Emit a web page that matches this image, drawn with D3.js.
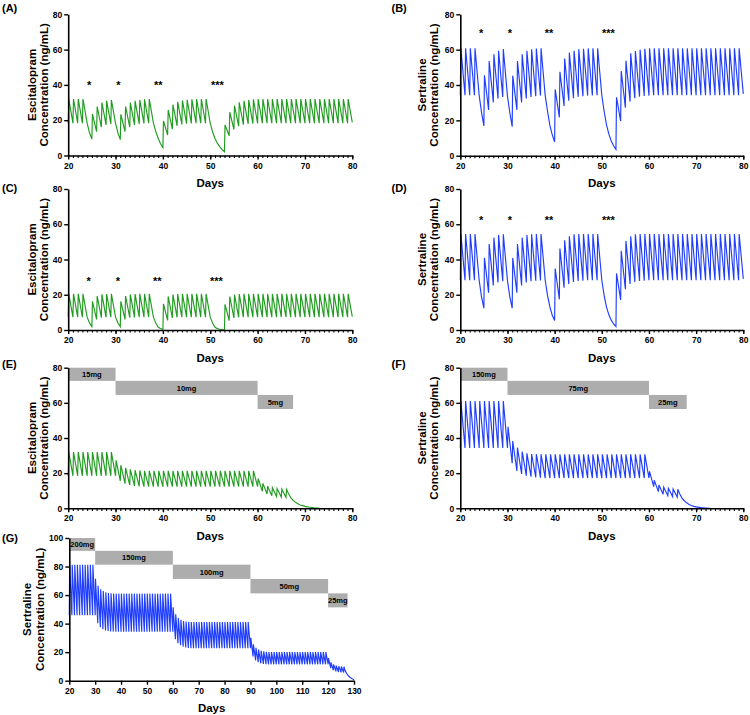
<!DOCTYPE html>
<html><head><meta charset="utf-8">
<script src="https://cdn.jsdelivr.net/npm/d3@7"></script>
<style>
body{margin:0;background:#fff}
svg{display:block}
text{font-family:Arial,"Liberation Sans",sans-serif;font-weight:bold;fill:#000}
</style>
</head><body>
<script>
// ---------------- DATA ----------------
// Each panel: troughs[i] = concentration at day start+i (just before the dose, or on a missed day),
// peaks[i] = concentration right after the dose of day start+i (null = no dose),
// mids = extra read points on long decays.
const daysStart = 20;
const xTicks80 = [20,30,40,50,60,70,80];
const xTicks130 = [20,30,40,50,60,70,80,90,100,110,120,130];
const yTicks80 = [0,20,40,60,80];
const yTicks100 = [0,20,40,60,80,100];

// (A) Escitalopram, missed doses
const aTroughs = [
 18.3,18.3,18.3,18.3,18.3,9.3,13.5,16,17.3,17.9,
 18.2,9,13.5,16,17.3,17.9,18.2,18.3,18.3,9.8,
 4.5,11.6,15,16.8,17.6,18,18.2,18.3,18.3,18.3,
 18.3,9.6,5,2.1,11.2,14.8,16.6,17.5,17.9,18.1,
 18.2,18.3,18.3,18.3,18.3,18.3,18.3,18.3,18.3,18.3,
 18.3,18.3,18.3,18.3,18.3,18.3,18.3,18.3,18.3,18.3,
 18.8];
const aPeaks = [
 32,32,32,32,null,23.5,27.7,30,31,31.5,
 null,23.3,27.7,30,31,31.5,31.8,32,null,null,
 19.6,25.8,28.8,30.4,31.2,31.6,31.8,32,32,32,
 null,null,null,17.3,24.5,28.2,30.1,31,31.5,31.8,
 32,32,32,32,32,32,32,32,32,32,
 32,32,32,32,32,32,32,32,32,32];
const aMids = [[24.5,12.9],[30.5,12.8],[38.5,13.6],[39.5,6.7],[50.5,13.3],[51.5,7],[52.5,3.3]];
const aStars = [[24.4,"*"],[30.6,"*"],[39,"**"],[51.5,"***"]];

// (B) Sertraline, missed doses
const bTroughs = [
 34.2,34.2,34.2,34.2,34.2,16.8,25.9,30.2,32.3,33.2,
 33.7,16.4,25.9,30.2,32.3,33.2,33.7,34,34.1,17,
 7.9,21.7,28.1,31.1,32.5,33.3,33.7,34,34.1,34.2,
 34.2,17.5,8.3,3.6,19.6,27.2,30.6,32.5,33.4,33.8,
 34,34.2,34.2,34.2,34.2,34.2,34.2,34.2,34.2,34.2,
 34.2,34.2,34.2,34.2,34.2,34.2,34.2,34.2,34.2,34.2,
 35];
const bPeaks = [
 60.8,60.8,60.8,60.8,null,45.5,53.6,57.4,59.4,60.4,
 null,45.3,53.6,57.4,59.4,60.2,60.6,60.8,null,null,
 37.5,47.5,55,58.3,59.4,60.2,60.5,60.7,60.8,60.8,
 null,null,null,33,47.9,53.7,57.9,59.2,60,60.5,
 60.8,60.8,60.8,60.8,60.8,60.8,60.8,60.8,60.8,60.8,
 60.8,60.8,60.8,60.8,60.8,60.8,60.8,60.8,60.8,60.8];
const bMids = [[24.5,24.5],[30.5,24.3],[38.5,25],[39.5,11.8],[50.5,25],[51.5,12.2],[52.5,5.6]];
const bStars = [[24.4,"*"],[30.5,"*"],[38.8,"**"],[51.4,"***"]];

// (C) Escitalopram, missed doses (lower exposure)
const cTroughs = [
 7.3,7.3,7.3,7.3,7.3,1.9,6,7,7.2,7.3,
 7.3,1.9,6,7,7.2,7.3,7.3,7.3,7.3,1.5,
 0.3,5.4,6.8,7.2,7.3,7.3,7.3,7.3,7.3,7.3,
 7.3,1.5,0.4,0.1,5.3,6.8,7.2,7.3,7.3,7.3,
 7.3,7.3,7.3,7.3,7.3,7.3,7.3,7.3,7.3,7.3,
 7.3,7.3,7.3,7.3,7.3,7.3,7.3,7.3,7.3,7.3,
 7.6];
const cPeaks = [
 20.5,20.5,20.5,20.5,null,16.3,19.3,20.2,20.4,20.5,
 null,16.3,19.3,20.2,20.4,20.5,20.5,20.5,null,null,
 14.8,19,20.1,20.4,20.5,20.5,20.5,20.5,20.5,20.5,
 null,null,null,14.6,19,20.1,20.4,20.5,20.5,20.5,
 20.5,20.5,20.5,20.5,20.5,20.5,20.5,20.5,20.5,20.5,
 20.5,20.5,20.5,20.5,20.5,20.5,20.5,20.5,20.5,20.5];
const cMids = [[24.5,4],[30.5,4],[38.5,3.9],[39.5,0.8],[50.5,3.9],[51.5,0.8],[52.5,0.2]];
const cStars = [[24.3,"*"],[30.5,"*"],[38.8,"**"],[51.3,"***"]];

// (D) Sertraline, missed doses (lower exposure)
const dTroughs = [
 28.2,28.2,28.2,28.2,28.2,12.4,21.2,25.3,27,27.7,
 28,12.4,21.2,25.3,27,27.7,28,28.1,28.2,13,
 5.4,17.4,24,26.1,27.2,27.8,28,28.2,28.2,28.2,
 28.2,13,5.6,2,17.1,23.1,26.1,27.2,27.8,28,
 28.2,28.2,28.2,28.2,28.2,28.2,28.2,28.2,28.2,28.2,
 28.2,28.2,28.2,28.2,28.2,28.2,28.2,28.2,28.2,28.2,
 29];
const dPeaks = [
 54.5,54.5,54.5,54.5,null,40.9,48.8,52.4,53.9,54.3,
 null,40.9,48.8,52.4,53.9,54.3,54.4,54.5,null,null,
 34.9,46.2,50.9,53.2,54.3,54.4,54.5,54.5,54.5,54.5,
 null,null,null,32.1,44.9,50.5,53.2,54.3,54.4,54.5,
 54.5,54.5,54.5,54.5,54.5,54.5,54.5,54.5,54.5,54.5,
 54.5,54.5,54.5,54.5,54.5,54.5,54.5,54.5,54.5,54.5];
const dMids = [[24.5,18.8],[30.5,18.8],[38.5,19.5],[39.5,8.4],[50.5,19.5],[51.5,8.6],[52.5,3.4]];
const dStars = [[24.4,"*"],[30.5,"*"],[38.8,"**"],[51.4,"***"]];

// (E) Escitalopram taper
const eTroughs = [
 18.5,18.5,18.5,18.5,18.5,18.5,18.5,18.5,18.5,18.5,
 18.5,15.6,14,13.2,12.7,12.5,12.3,12.3,12.3,12.3,
 12.3,12.3,12.3,12.3,12.3,12.3,12.3,12.3,12.3,12.3,
 12.3,12.3,12.3,12.3,12.3,12.3,12.3,12.3,12.3,12.3,
 12.3,9.7,8.1,7.2,6.7,6.4,6.2,6,3.4,1.9,
 1.1,0.6,0.3,0.1];
const ePeaks = [
 32,32,32,32,32,32,32,32,32,32,
 27.3,24.5,23,22.2,21.7,21.5,21.3,21.3,21.3,21.3,
 21.3,21.3,21.3,21.3,21.3,21.3,21.3,21.3,21.3,21.3,
 21.3,21.3,21.3,21.3,21.3,21.3,21.3,21.3,21.3,21.3,
 17,14.2,12.6,11.7,11.2,10.9,10.7];
const eMids = [[66.5,8.5],[67.5,4.5],[68.5,2.6],[69.5,1.5]];
const eBars = [["15mg",20,30,80,72.5],["10mg",30,60,72.5,64.5],["5mg",60,67.5,64.5,56.5]];

// (F) Sertraline taper
const fTroughs = [
 34.3,34.3,34.3,34.3,34.3,34.3,34.3,34.3,34.3,34.3,
 34.3,25.6,21.2,19.5,18.6,18,17.6,17.4,17.2,17.2,
 17.2,17.2,17.2,17.2,17.2,17.2,17.2,17.2,17.2,17.2,
 17.2,17.2,17.2,17.2,17.2,17.2,17.2,17.2,17.2,17.2,
 17.2,12.3,9.5,8,7.2,6.7,6.4,5.8,3.1,1.6,
 0.8,0.4,0.2,0.05];
const fPeaks = [
 61,61,61,61,61,61,61,61,61,61,
 46.4,38.3,34.5,32.2,31.3,30.9,30.8,30.7,30.7,30.7,
 30.7,30.7,30.7,30.7,30.7,30.7,30.7,30.7,30.7,30.7,
 30.7,30.7,30.7,30.7,30.7,30.7,30.7,30.7,30.7,30.7,
 21,16,13.3,12,11.4,11,10.8];
const fMids = [[66.5,8.3],[67.5,4.3],[68.5,2.2],[69.5,1.1]];
const fBars = [["150mg",20,30,80,72.5],["75mg",30,60,72.5,64.5],["25mg",60,68,64.5,56.5]];

// (G) Sertraline long taper
const gTroughs = [
 45.8,45.8,45.8,45.8,45.8,45.8,45.8,45.8,45.8,45.8,
 45.8,40.3,37.5,36,35.2,34.8,34.5,34.4,34.3,34.3,
 34.3,34.3,34.3,34.3,34.3,34.3,34.3,34.3,34.3,34.3,
 34.3,34.3,34.3,34.3,34.3,34.3,34.3,34.3,34.3,34.3,
 34.3,29,26.3,24.8,23.9,23.3,23,22.8,22.7,22.7,
 22.7,22.7,22.7,22.7,22.7,22.7,22.7,22.7,22.7,22.7,
 22.7,22.7,22.7,22.7,22.7,22.7,22.7,22.7,22.7,22.7,
 22.7,17,14.3,13,12.2,11.8,11.6,11.5,11.5,11.5,
 11.5,11.5,11.5,11.5,11.5,11.5,11.5,11.5,11.5,11.5,
 11.5,11.5,11.5,11.5,11.5,11.5,11.5,11.5,11.5,11.5,
 11.5,8.9,7.3,6.5,6.1,5.8,5.7,5.5,3.1,1.7,
 0.5];
const gPeaks = [
 81.3,81.3,81.3,81.3,81.3,81.3,81.3,81.3,81.3,81.3,
 71.5,66.5,64,62.8,62,61.5,61.2,61,61,61,
 61,61,61,61,61,61,61,61,61,61,
 61,61,61,61,61,61,61,61,61,61,
 51.5,46.5,44,42.6,41.8,41.4,41.2,41.1,41.1,41.1,
 41.1,41.1,41.1,41.1,41.1,41.1,41.1,41.1,41.1,41.1,
 41.1,41.1,41.1,41.1,41.1,41.1,41.1,41.1,41.1,41.1,
 30,25.5,23,21.8,21,20.6,20.3,20.1,20.1,20.1,
 20.1,20.1,20.1,20.1,20.1,20.1,20.1,20.1,20.1,20.1,
 20.1,20.1,20.1,20.1,20.1,20.1,20.1,20.1,20.1,20.1,
 15.8,12.9,11.4,10.6,10.2,10,9.8];
const gMids = [[126.5,7.5],[127.5,4.2],[128.5,2.3],[129.5,1.1]];
const gBars = [["200mg",20,30,100,91],["150mg",30,60,91,81.3],["100mg",60,90,81.3,71.3],["50mg",90,120,71.3,61.2],["25mg",120,127.5,61.2,51.4]];

// ---------------- DRAW ----------------
const GREEN = "#1f9c1f", BLUE = "#1f3dff";
const RISE = 0.12;
const svg = d3.select("body").append("svg").attr("width",750).attr("height",715);

function points(troughs, peaks, mids){
  const pts = [];
  troughs.forEach((v,i)=>pts.push([daysStart+i, v]));
  peaks.forEach((v,i)=>{ if(v!==null) pts.push([daysStart+i+RISE, v]); });
  (mids||[]).forEach(m=>pts.push(m));
  pts.sort((a,b)=>a[0]-b[0]);
  return pts;
}

function panel(p){
  const x = d3.scaleLinear().domain(p.xDomain).range([p.x0,p.x1]);
  const y = d3.scaleLinear().domain([0,p.yMax]).range([p.yBot,p.yTop]);
  const g = svg.append("g");

  // dose bars
  if(p.bars){
    const bg = g.append("g");
    bg.selectAll("rect").data(p.bars).join("rect")
      .attr("x",d=>x(d[1])).attr("width",d=>x(d[2])-x(d[1]))
      .attr("y",d=>y(d[3])).attr("height",d=>y(d[4])-y(d[3]))
      .attr("fill","#adadad");
    bg.selectAll("text").data(p.bars).join("text")
      .attr("x",d=>x((d[1]+d[2])/2)).attr("y",d=>(y(d[3])+y(d[4]))/2+2.7)
      .attr("text-anchor","middle").style("font-size","7.5px").text(d=>d[0]);
  }

  // concentration line
  g.append("path").datum(points(p.troughs,p.peaks,p.mids))
    .attr("d", d3.line().x(d=>x(d[0])).y(d=>y(d[1])))
    .attr("fill","none").attr("stroke",p.color).attr("stroke-width",1.15)
    .attr("stroke-linejoin","miter");

  // stars
  if(p.stars){
    g.selectAll("text.star").data(p.stars).join("text").attr("class","star")
      .attr("x",d=>x(d[0])).attr("y",y(p.starY)+6)
      .attr("text-anchor","middle").style("font-size","11px").text(d=>d[1]);
  }

  // minor x ticks
  if(p.minor){
    const mg = g.append("g").attr("transform",`translate(0,${p.yBot})`)
      .call(d3.axisBottom(x).tickValues(d3.range(p.xDomain[0],p.xDomain[1]+1,1)).tickSize(2.6).tickSizeOuter(0).tickFormat(""));
    mg.select(".domain").remove();
    mg.selectAll("line").attr("stroke","#000").attr("stroke-width",1.1);
  }
  // x axis
  const xa = g.append("g").attr("transform",`translate(0,${p.yBot})`)
    .call(d3.axisBottom(x).tickValues(p.xTicks).tickSize(4).tickSizeOuter(0).tickPadding(3));
  // y axis
  const ya = g.append("g").attr("transform",`translate(${p.x0},0)`)
    .call(d3.axisLeft(y).tickValues(p.yTicks).tickSize(4).tickSizeOuter(0).tickPadding(2));
  [xa,ya].forEach(a=>{
    a.select(".domain").attr("stroke","#000").attr("stroke-width",1.6);
    a.selectAll(".tick line").attr("stroke","#000").attr("stroke-width",1.4);
    a.selectAll(".tick text").style("font-size","8.5px").style("font-family","Arial,'Liberation Sans',sans-serif").style("font-weight","bold").attr("fill","#000");
  });

  // x title
  g.append("text").attr("x",(p.x0+p.x1)/2).attr("y",p.yBot+31.5)
    .attr("text-anchor","middle").style("font-size","11.5px").text("Days");
  // y title (two lines)
  const cy = (p.yTop+p.yBot)/2;
  p.title.forEach((t,i)=>{
    const bx = p.x0 + p.titleOff[i];
    g.append("text").attr("transform",`translate(${bx},${cy}) rotate(-90)`)
      .attr("text-anchor","middle").style("font-size","11.5px").text(t);
  });
  // panel label
  g.append("text").attr("x",p.lab[0]).attr("y",p.lab[1]).style("font-size","11px").text(p.label);
}

const escTitle = ["Escitalopram","Concentration (ng/mL)"];
const serTitle = ["Sertraline","Concentration (ng/mL)"];
const leftCol = {x0:68.2, x1:352.3, titleOff:[-32.5,-20]};
const rightCol = {x0:460.3, x1:743.3, titleOff:[-34.8,-22.2]};

panel({...leftCol, label:"(A)", lab:[2,12], yTop:14.3, yBot:155.5, xDomain:[20,80], yMax:80,
  xTicks:xTicks80, yTicks:yTicks80, minor:true, color:GREEN, title:escTitle,
  troughs:aTroughs, peaks:aPeaks, mids:aMids, stars:aStars, starY:41});
panel({...rightCol, label:"(B)", lab:[391.5,12], yTop:14.3, yBot:155.7, xDomain:[20,80], yMax:80,
  xTicks:xTicks80, yTicks:yTicks80, minor:true, color:BLUE, title:serTitle,
  troughs:bTroughs, peaks:bPeaks, mids:bMids, stars:bStars, starY:70.7});
panel({...leftCol, label:"(C)", lab:[2,192], yTop:189, yBot:330, xDomain:[20,80], yMax:80,
  xTicks:xTicks80, yTicks:yTicks80, minor:true, color:GREEN, title:escTitle,
  troughs:cTroughs, peaks:cPeaks, mids:cMids, stars:cStars, starY:29});
panel({...rightCol, label:"(D)", lab:[391.5,192], yTop:189, yBot:330, xDomain:[20,80], yMax:80,
  xTicks:xTicks80, yTicks:yTicks80, minor:true, color:BLUE, title:serTitle,
  troughs:dTroughs, peaks:dPeaks, mids:dMids, stars:dStars, starY:63.3});
panel({...leftCol, label:"(E)", lab:[2,368], yTop:367.7, yBot:508.3, xDomain:[20,80], yMax:80,
  xTicks:xTicks80, yTicks:yTicks80, minor:true, color:GREEN, title:escTitle,
  troughs:eTroughs, peaks:ePeaks, mids:eMids, bars:eBars});
panel({...rightCol, label:"(F)", lab:[391.5,368], yTop:367.7, yBot:508.3, xDomain:[20,80], yMax:80,
  xTicks:xTicks80, yTicks:yTicks80, minor:true, color:BLUE, title:serTitle,
  troughs:fTroughs, peaks:fPeaks, mids:fMids, bars:fBars});
panel({x0:69.3, x1:354, titleOff:[-38.8,-25.5], label:"(G)", lab:[2,542], yTop:538, yBot:680.7, xDomain:[20,130], yMax:100,
  xTicks:xTicks130, yTicks:yTicks100, minor:false, color:BLUE, title:serTitle,
  troughs:gTroughs, peaks:gPeaks, mids:gMids, bars:gBars});
</script>
</body></html>
